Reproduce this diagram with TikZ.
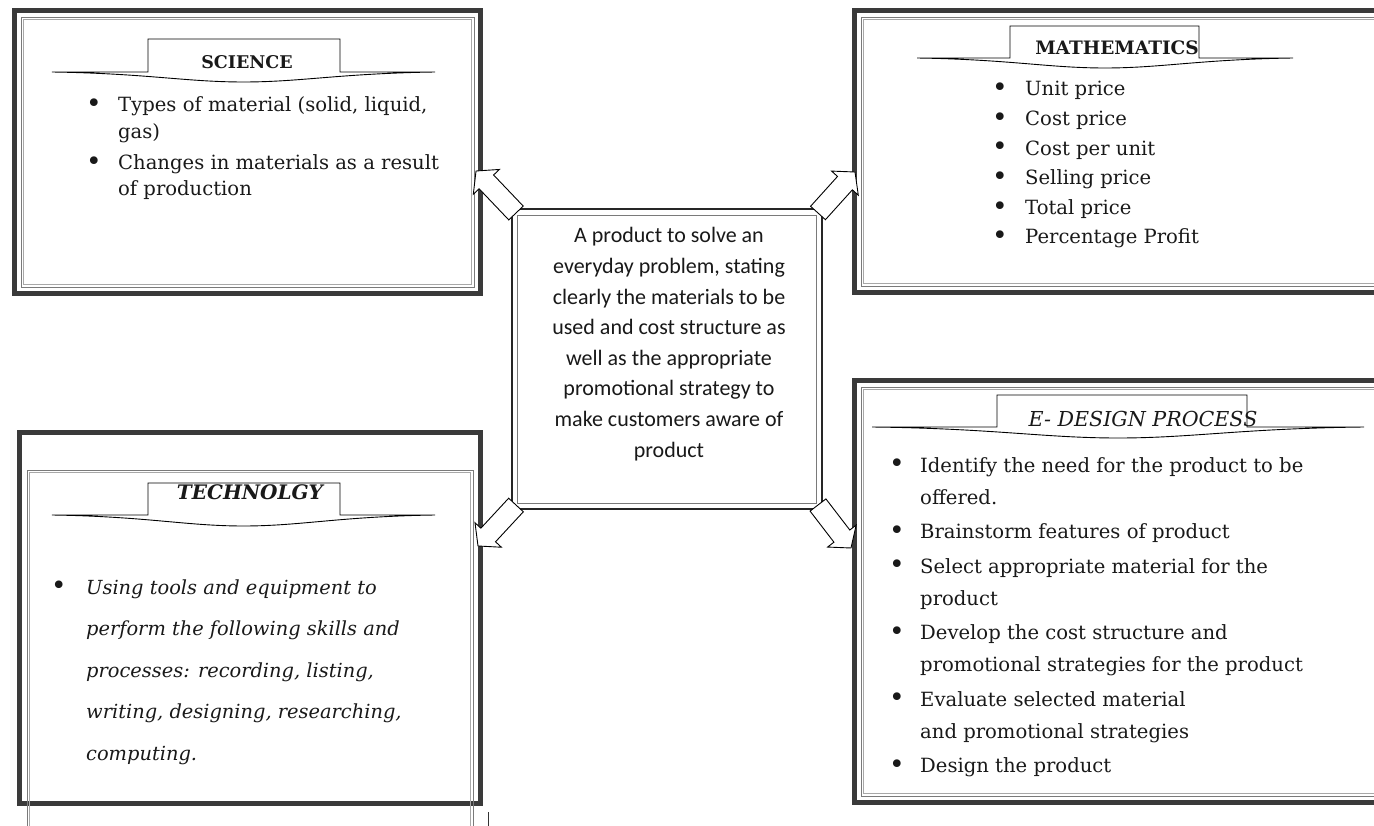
\documentclass[tikz,border=0pt]{standalone}
\usepackage{fontspec}
\usepackage{graphicx}
\usetikzlibrary{calc}
\newfontfamily\bodyfont{DejaVu Serif}
\newfontfamily\labelfont{Carlito}
\definecolor{framegray}{HTML}{3A3A3A}
\definecolor{linegray}{HTML}{7A7A7A}
\definecolor{lightline}{HTML}{A8A8A8}

% list bullet, a little heavier than the plain one
\newcommand\bul{\raisebox{-0.8pt}{\scalebox{1.35}{\textbullet}}}

% ribbon banner: x-left, x-right, tab-left, tab-right, tab-top, base line, dip
\newcommand\ribbon[7]{%
  \draw[ribbonstyle] (#1,#6) -- (#3,#6) -- (#3,#5) -- (#4,#5) -- (#4,#6) -- (#2,#6)
    .. controls ({#2-0.25*(#2-#1)},{#6+1.5}) and ({(#1+#2)/2+0.15*(#2-#1)},{#6+#7}) ..
    ({(#1+#2)/2},{#6+#7})
    .. controls ({(#1+#2)/2-0.15*(#2-#1)},{#6+#7}) and ({#1+0.25*(#2-#1)},{#6+1.5}) ..
    (#1,#6) -- cycle;}

% outlined block arrow from one point to another
\newcommand\blockarrow[2]{%
  \draw[blockarr] let \p1=(#1), \p2=(#2),
    \n1={atan2(\y2-\y1,\x2-\x1)}, \n2={veclen(\x2-\x1,\y2-\y1)} in
    [shift={(\p1)}, rotate=\n1]
    (0pt,-10pt) -- ({\n2*1pt-15pt},-10pt) -- ({\n2*1pt-15pt},-18pt) -- ({\n2*1pt},0pt)
    -- ({\n2*1pt-15pt},18pt) -- ({\n2*1pt-15pt},10pt) -- (0pt,10pt) -- cycle;}

\tikzset{
  framebox/.style={draw=framegray, line width=5pt, rectangle, inner sep=0pt, outer sep=0pt},
  innerline/.style={draw=linegray, line width=0.9pt},
  innerlight/.style={draw=lightline, line width=0.7pt},
  centerbox/.style={draw=black!85, line width=1.2pt, rectangle, inner sep=0pt, outer sep=0pt, fill=white},
  ribbonstyle/.style={draw=black, fill=white, line width=0.9pt, line join=miter},
  blockarr/.style={draw=black, fill=white, line width=0.9pt, line join=miter},
  listtext/.style={anchor=base west, inner sep=0pt, text=black!90},
  headtext/.style={anchor=base, inner sep=0pt, text=black!90},
}

\begin{document}
\begin{tikzpicture}[x=1pt,y=-1pt]
\useasboundingbox (0,0) rectangle (1374,826);
\clip (0,0) rectangle (1374,826);
\fill[white] (0,0) rectangle (1374,826);

% ---------- Science ----------
\node[framebox, minimum width=466pt, minimum height=283pt] (sci) at (247.5,152) {};
\draw[innerline] ($(sci.north west)+(6.5,6.5)$) rectangle ($(sci.south east)+(-6.5,-6.5)$);
\draw[innerlight] ($(sci.north west)+(9,9)$) rectangle ($(sci.south east)+(-9,-9)$);
\ribbon{52}{435}{148}{340}{39}{72}{10}
\node[headtext] (sciHead) at (247,69) {\bodyfont\fontsize{17.5}{22}\selectfont\bfseries SCIENCE};
\node[listtext] (sciList) at (86,112) {\bodyfont\fontsize{19.6}{26.5}\selectfont
  \begin{tabular}[t]{@{}p{32pt}@{}l@{}}
  \bul & Types of material (solid, liquid,\\
       & gas)\\[4.5pt]
  \bul & Changes in materials as a result\\
       & of production
  \end{tabular}};

% ---------- Mathematics ----------
\node[framebox, minimum width=530pt, minimum height=282pt] (math) at (1119.5,151.5) {};
\draw[innerline] ($(math.north west)+(6.5,6.5)$) rectangle ($(math.south east)+(-6.5,-6.5)$);
\draw[innerlight] ($(math.north west)+(9,9)$) rectangle ($(math.south east)+(-9,-9)$);
\ribbon{917}{1293}{1010}{1199}{26}{58}{10}
\node[headtext] (mathHead) at (1117,55) {\bodyfont\fontsize{18.5}{22}\selectfont\bfseries MATHEMATICS};
\node[listtext] (mathList) at (992,96) {\bodyfont\fontsize{19.6}{29.6}\selectfont
  \begin{tabular}[t]{@{}p{33pt}@{}l@{}}
  \bul & Unit price\\
  \bul & Cost price\\
  \bul & Cost per unit\\
  \bul & Selling price\\
  \bul & Total price\\
  \bul & Percentage Profit
  \end{tabular}};

% ---------- Technology ----------
\node[framebox, minimum width=461pt, minimum height=371pt] (tech) at (250,618) {};
\draw[innerline] (27,830) -- (27,470) -- (473,470) -- (473,830);
\draw[innerlight] (29.5,830) -- (29.5,472.5) -- (470.5,472.5) -- (470.5,830);
\draw[draw=black!80, line width=1pt] (488,812) -- (488,830);
\ribbon{52}{435}{148}{340}{483}{515}{11}
\node[headtext] (techHead) at (250,499) {\bodyfont\fontsize{20}{22}\selectfont\bfseries\itshape TECHNOLGY};
\node[listtext] (techList) at (51,594) {\bodyfont\fontsize{19.4}{41.5}\selectfont\itshape
  \begin{tabular}[t]{@{}p{35pt}@{}l@{}}
  \bul & Using tools and equipment to\\
       & perform the following skills and\\
       & processes: recording, listing,\\
       & writing, designing, researching,\\
       & computing.
  \end{tabular}};

% ---------- E-design process ----------
\node[framebox, minimum width=530pt, minimum height=422pt] (edes) at (1119.5,591.5) {};
\draw[innerline] ($(edes.north west)+(6.5,6.5)$) rectangle ($(edes.south east)+(-6.5,-6.5)$);
\draw[innerlight] ($(edes.north west)+(9,9)$) rectangle ($(edes.south east)+(-9,-9)$);
\ribbon{872}{1364}{997}{1247}{395}{427}{11}
\node[headtext] (edesHead) at (1143,426) {\bodyfont\fontsize{20.6}{22}\selectfont\itshape E- DESIGN PROCESS};
\node[listtext] (edesList) at (889,472) {\bodyfont\fontsize{19.6}{32}\selectfont
  \begin{tabular}[t]{@{}p{31pt}@{}l@{}}
  \bul & Identify the need for the product to be\\
       & offered.\\[2.5pt]
  \bul & Brainstorm features of product\\[2.5pt]
  \bul & Select appropriate material for the\\
       & product\\[2.5pt]
  \bul & Develop the cost structure and\\
       & promotional strategies for the product\\[2.5pt]
  \bul & Evaluate selected material\\
       & and promotional strategies\\[2.5pt]
  \bul & Design the product
  \end{tabular}};

% ---------- Central product box ----------
\node[centerbox, minimum width=310pt, minimum height=300pt] (ctr) at (667,359) {};
\draw[innerline] ($(ctr.north west)+(5.5,6)$) rectangle ($(ctr.south east)+(-5.5,-6)$);
\node[headtext] (ctrText) at (669,243) {\labelfont\fontsize{22}{30.6}\selectfont
  \begin{tabular}[t]{@{}c@{}}
  A product to solve an\\
  everyday problem, stating\\
  clearly the materials to be\\
  used and cost structure as\\
  well as the appropriate\\
  promotional strategy to\\
  make customers aware of\\
  product
  \end{tabular}};

% ---------- Arrows from the product box to each subject ----------
\coordinate (tipSci)  at (476,171);
\coordinate (tipMath) at (855,172);
\coordinate (tipTech) at (478,546);
\coordinate (tipEdes) at (851,548);
\blockarrow{$(ctr.north west)+(4,4)$}{tipSci}
\blockarrow{$(ctr.north east)+(-4,4)$}{tipMath}
\blockarrow{$(ctr.south west)+(4,-4)$}{tipTech}
\blockarrow{$(ctr.south east)+(-4,-4)$}{tipEdes}
\end{tikzpicture}
\end{document}
